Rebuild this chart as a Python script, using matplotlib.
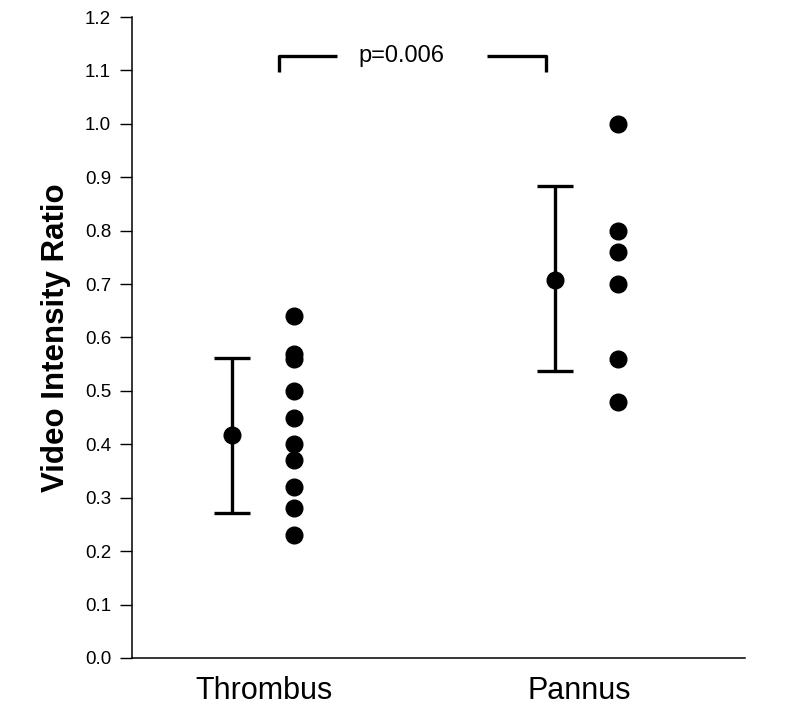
import matplotlib.pyplot as plt
import numpy as np

plt.rcParams['font.family'] = ['Liberation Sans', 'DejaVu Sans']

# data
groups = ['Thrombus', 'Pannus']
thrombus = [0.64, 0.57, 0.56, 0.50, 0.45, 0.40, 0.37, 0.32, 0.28, 0.23]
pannus = [1.00, 0.80, 0.76, 0.70, 0.56, 0.48]
means = [0.418, 0.708]
lower = [0.272, 0.538]
upper = [0.562, 0.883]
p_text = 'p=0.006'

# x positions (data units)
bar_x = [0.65, 2.76]
dot_x = [1.06, 3.17]
label_x = [0.86, 2.92]

fig = plt.figure(figsize=(7.9, 7.09), dpi=100)
ax = fig.add_axes([0.167, 0.072, 0.776, 0.904])

err = [np.array(means) - np.array(lower), np.array(upper) - np.array(means)]
ax.errorbar(bar_x, means, yerr=err, fmt='o', color='black', ms=12,
            elinewidth=2.4, capsize=13, capthick=2.4, clip_on=False)

ax.plot([dot_x[0]] * len(thrombus), thrombus, 'o', color='black', ms=12, clip_on=False)
ax.plot([dot_x[1]] * len(pannus), pannus, 'o', color='black', ms=12, clip_on=False)

# significance bracket
by = 1.127
ax.plot([0.96, 0.96, 1.34], [1.097, by, by], color='black', lw=2.4,
        solid_capstyle='butt')
ax.plot([2.32, 2.70, 2.70], [by, by, 1.097], color='black', lw=2.4,
        solid_capstyle='butt')
ax.text(1.76, by, p_text, ha='center', va='center', fontsize=17)

ax.set_xlim(0, 4)
ax.set_ylim(0, 1.2)
ax.set_yticks(np.arange(0, 1.21, 0.1))
ax.set_yticklabels(['%.1f' % v for v in np.arange(0, 1.21, 0.1)], fontsize=13.5)
ax.set_xticks(label_x)
ax.set_xticklabels(groups, fontsize=22)
ax.tick_params(axis='x', length=0, pad=13)
ax.tick_params(axis='y', length=9, width=1, pad=6, direction='out')

ax.spines['top'].set_visible(False)
ax.spines['right'].set_visible(False)
ax.spines['left'].set_linewidth(1.1)
ax.spines['bottom'].set_linewidth(1.1)

ax.set_ylabel('Video Intensity Ratio', fontsize=22.5, fontweight='bold', labelpad=10)

fig.savefig('out.png', dpi=100)
